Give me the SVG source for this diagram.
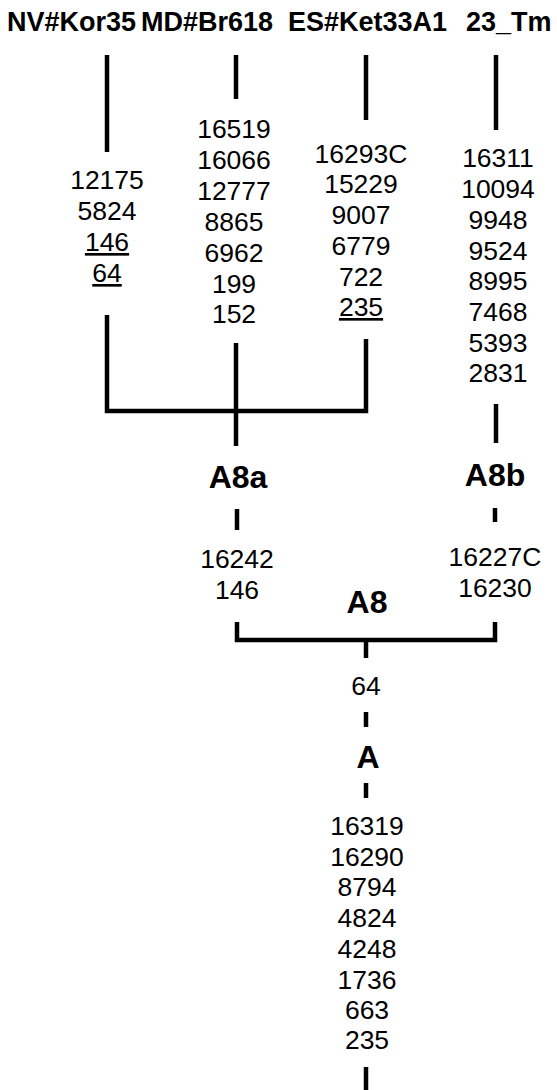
<svg xmlns="http://www.w3.org/2000/svg" width="557" height="1090" viewBox="0 0 557 1090">
<style>
.h{font-family:"Liberation Sans",Arial,sans-serif;font-weight:bold;font-size:27px;fill:#000}
.n{font-family:"Liberation Sans",Arial,sans-serif;font-size:26.5px;fill:#000;text-anchor:middle}
.l{font-family:"Liberation Sans",Arial,sans-serif;font-weight:bold;font-size:32px;fill:#000;text-anchor:middle}
.u{text-decoration:underline}
.c{stroke:#000;stroke-width:4.5;fill:none;stroke-linecap:butt;stroke-linejoin:miter}
</style>
<rect width="557" height="1090" fill="#fff"/>
<g id="connectors" class="c">
<line x1="107" y1="55" x2="107" y2="152"/>
<line x1="236" y1="55" x2="236" y2="99"/>
<line x1="366" y1="55" x2="366" y2="120"/>
<line x1="496" y1="55" x2="496" y2="130"/>
<path d="M107,315 V411 H366 V339"/>
<line x1="236" y1="343" x2="236" y2="446"/>
<line x1="496" y1="404" x2="496" y2="443"/>
<line x1="237" y1="509" x2="237" y2="530"/>
<line x1="495" y1="508" x2="495" y2="522"/>
<path d="M237,622 V640 H495 V622"/>
<line x1="366" y1="640" x2="366" y2="658"/>
<line x1="366" y1="712" x2="366" y2="727"/>
<line x1="366" y1="783" x2="366" y2="798"/>
<line x1="366" y1="1067" x2="366" y2="1090"/>
</g>
<g id="hdr-NV"><text class="h" x="7" y="31">NV#Kor35</text></g>
<g id="hdr-MD"><text class="h" x="141" y="31">MD#Br618</text></g>
<g id="hdr-ES"><text class="h" x="288" y="31">ES#Ket33A1</text></g>
<g id="hdr-23"><text class="h" x="466" y="31">23_Tm</text></g>
<g id="mut-NV" class="n">
<text x="107" y="189">12175</text>
<text x="107" y="220">5824</text>
<text x="107" y="251" class="n u">146</text>
<text x="107" y="282" class="n u">64</text>
</g>
<g id="mut-MD" class="n">
<text x="234" y="138">16519</text>
<text x="234" y="169">16066</text>
<text x="234" y="200">12777</text>
<text x="234" y="231">8865</text>
<text x="234" y="262">6962</text>
<text x="234" y="293">199</text>
<text x="234" y="323">152</text>
</g>
<g id="mut-ES" class="n">
<text x="361" y="163">16293C</text>
<text x="361" y="193">15229</text>
<text x="361" y="224">9007</text>
<text x="361" y="255">6779</text>
<text x="361" y="286">722</text>
<text x="361" y="316" class="n u">235</text>
</g>
<g id="mut-23" class="n">
<text x="498" y="167">16311</text>
<text x="498" y="198">10094</text>
<text x="498" y="229">9948</text>
<text x="498" y="260">9524</text>
<text x="498" y="290">8995</text>
<text x="498" y="321">7468</text>
<text x="498" y="352">5393</text>
<text x="498" y="382">2831</text>
</g>
<g id="A8a"><text class="l" x="238" y="488">A8a</text></g>
<g id="A8b"><text class="l" x="495" y="486">A8b</text></g>
<g id="mut-A8a" class="n">
<text x="237" y="568">16242</text>
<text x="237" y="599">146</text>
</g>
<g id="mut-A8b" class="n">
<text x="495" y="566">16227C</text>
<text x="495" y="597">16230</text>
</g>
<g id="A8"><text class="l" x="367" y="613">A8</text></g>
<g id="mut-A8" class="n"><text x="366" y="695">64</text></g>
<g id="A"><text class="l" x="368" y="768">A</text></g>
<g id="mut-A" class="n">
<text x="367" y="835">16319</text>
<text x="367" y="866">16290</text>
<text x="367" y="896">8794</text>
<text x="367" y="927">4824</text>
<text x="367" y="958">4248</text>
<text x="367" y="989">1736</text>
<text x="367" y="1019">663</text>
<text x="367" y="1049">235</text>
</g>
</svg>
